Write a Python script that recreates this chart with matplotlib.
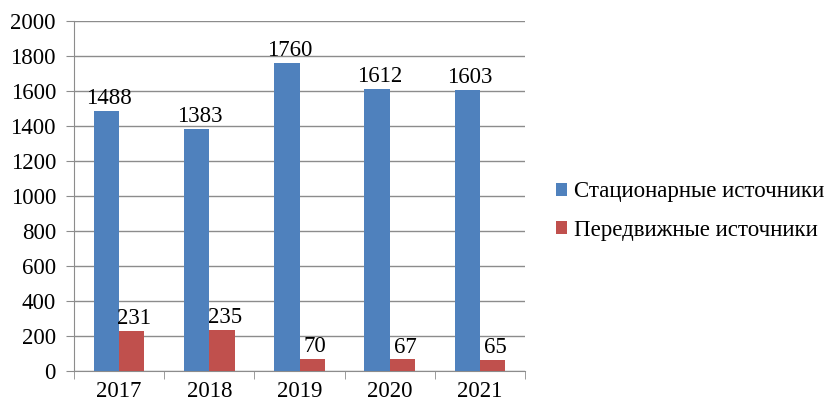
import matplotlib
matplotlib.use("Agg")
import matplotlib.pyplot as plt
import numpy as np

years = ["2017", "2018", "2019", "2020", "2021"]
stationary = [1488, 1383, 1760, 1612, 1603]
mobile = [231, 235, 70, 67, 65]
series_names = ["Стационарные источники", "Передвижные источники"]
yticks = [0, 200, 400, 600, 800, 1000, 1200, 1400, 1600, 1800, 2000]

plt.rcParams["font.family"] = ["Liberation Serif", "DejaVu Serif"]
fs = 16.5

fig = plt.figure(figsize=(8.26, 4.01), dpi=100)
ax = fig.add_axes([74 / 826, 30 / 401, 451 / 826, 350 / 401])

x = np.arange(len(years))
w = 0.28
grid_c = "#8c8c8c"
b1 = ax.bar(x - w / 2, stationary, w, color="#4F81BD", label=series_names[0], zorder=3)
b2 = ax.bar(x + w / 2, mobile, w, color="#C0504D", label=series_names[1], zorder=3)

for rect, v in zip(b1, stationary):
    ax.text(rect.get_x() + rect.get_width() / 2 + 0.03, v + 12, str(v),
            ha="center", va="bottom", fontsize=fs)
for rect, v in zip(b2, mobile):
    ax.text(rect.get_x() + rect.get_width() / 2 + 0.03, v + 8, str(v),
            ha="center", va="bottom", fontsize=fs)

ax.set_xlim(-0.5, len(years) - 0.5)
ax.set_ylim(0, 2000)
ax.set_yticks(yticks)
ax.set_yticklabels([str(t) for t in yticks], fontsize=fs)
ax.yaxis.grid(True, color=grid_c, lw=1.0, zorder=0)
ax.tick_params(axis="y", direction="out", length=6, color=grid_c, pad=7)

# category labels centered, ticks between categories
ax.set_xticks(x)
ax.set_xticklabels(years, fontsize=fs)
ax.tick_params(axis="x", length=0, pad=7)
ax.set_xticks(np.arange(-0.5, len(years)), minor=True)
ax.tick_params(axis="x", which="minor", direction="out", length=6, color=grid_c)

for side in ["top", "right"]:
    ax.spines[side].set_visible(False)
for side in ["left", "bottom"]:
    ax.spines[side].set_color(grid_c)

fig.legend(handles=[b1, b2], labels=series_names, loc="center left",
           bbox_to_anchor=(556 / 826, 1 - 211 / 401), frameon=False,
           fontsize=fs, handlelength=0.5, handleheight=0.5,
           handletextpad=0.3, labelspacing=0.75, borderaxespad=0,
           borderpad=0)

fig.savefig("out.png", dpi=100)
